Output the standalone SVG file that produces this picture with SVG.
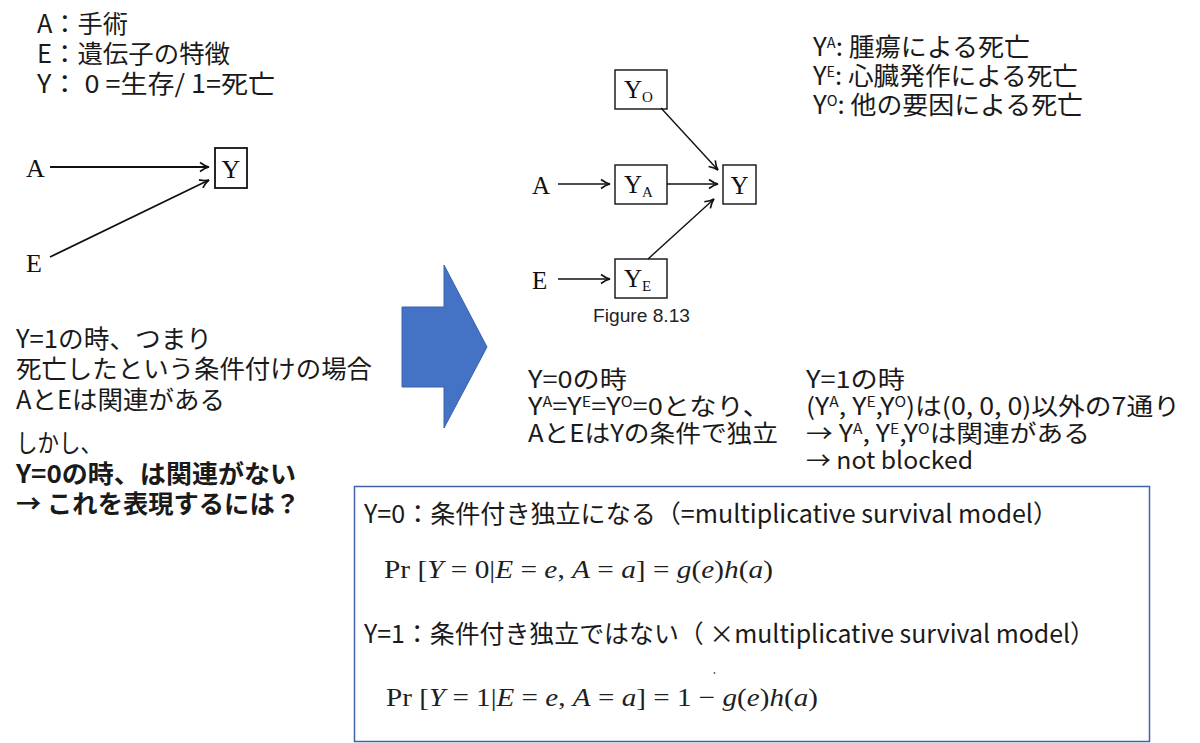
<svg xmlns="http://www.w3.org/2000/svg" width="1200" height="743" viewBox="0 0 1200 743">
<style>
.jp{font-family:"Noto Sans CJK JP","Noto Sans",sans-serif;font-size:25px;fill:#1a1a1a}
.mid{font-size:24px}
.b{font-weight:bold}
.sup{font-size:14px}
.tm{font-family:"Liberation Serif","Times New Roman",serif;fill:#111}
.math{font-family:"Liberation Serif","Times New Roman",serif;font-size:26px;fill:#1f1f1f}
.i{font-style:italic}
.nb{fill:none;stroke:#111;stroke-width:1.4}
.cn{fill:none;stroke:#111;stroke-width:1.8}
.cap{font-family:"Liberation Sans",Arial,sans-serif;font-size:18.5px;fill:#222}
</style>
<defs>
<marker id="ah" viewBox="-11 -6 12 12" refX="0" refY="0" markerWidth="12" markerHeight="12" markerUnits="userSpaceOnUse" orient="auto">
<path d="M-9,-4.5 Q-4,-0.8 0,0 Q-4,0.8 -9,4.5" fill="none" stroke="#111" stroke-width="1.6"/>
</marker>
</defs>
<rect width="1200" height="743" fill="#ffffff"/>

<g id="legend-left">
<text class="jp" x="37" y="33" textLength="91" lengthAdjust="spacingAndGlyphs">A：手術</text>
<text class="jp" x="37" y="63" textLength="193" lengthAdjust="spacingAndGlyphs">E：遺伝子の特徴</text>
<text class="jp" x="37" y="93" textLength="238" lengthAdjust="spacingAndGlyphs">Y： 0 =生存/ 1=死亡</text>
</g>

<g id="connectors">
<line class="cn" x1="50" y1="167" x2="209" y2="167" marker-end="url(#ah)"/>
<line class="cn" x1="50" y1="257" x2="209" y2="180" marker-end="url(#ah)"/>
<line class="nb" x1="558" y1="184" x2="610" y2="184" marker-end="url(#ah)"/>
<line class="nb" x1="558" y1="279" x2="610" y2="279" marker-end="url(#ah)"/>
<line class="nb" x1="667" y1="184" x2="718" y2="184" marker-end="url(#ah)"/>
<line class="nb" x1="661" y1="108" x2="718" y2="170" marker-end="url(#ah)"/>
<line class="nb" x1="648" y1="259" x2="714" y2="199" marker-end="url(#ah)"/>
</g>

<g id="left-A"><text class="tm" x="26" y="177" font-size="26">A</text></g>
<g id="left-E"><text class="tm" x="26" y="272" font-size="26">E</text></g>
<g id="left-Y">
<rect x="215" y="148" width="32" height="40" class="cn"/>
<text class="tm" x="231" y="178" font-size="26" text-anchor="middle">Y</text>
</g>

<g id="right-A"><text class="tm" x="532" y="194" font-size="25">A</text></g>
<g id="right-E"><text class="tm" x="532" y="289" font-size="25">E</text></g>
<g id="node-YO">
<rect x="615" y="70" width="52" height="39" class="nb"/>
<text class="tm" x="624" y="98" font-size="25">Y<tspan font-size="15" dy="4">O</tspan></text>
</g>
<g id="node-YA">
<rect x="615" y="165" width="52" height="39" class="nb"/>
<text class="tm" x="624" y="193" font-size="25">Y<tspan font-size="15" dy="4">A</tspan></text>
</g>
<g id="node-YE">
<rect x="615" y="259" width="52" height="39" class="nb"/>
<text class="tm" x="624" y="287" font-size="25">Y<tspan font-size="15" dy="4">E</tspan></text>
</g>
<g id="node-Y">
<rect x="723" y="165" width="33" height="39" class="nb"/>
<text class="tm" x="739.5" y="194" font-size="25" text-anchor="middle">Y</text>
</g>
<g id="caption"><text class="cap" x="593" y="322" textLength="97" lengthAdjust="spacingAndGlyphs">Figure 8.13</text></g>

<g id="legend-right">
<text class="jp" x="813" y="56" textLength="217" lengthAdjust="spacingAndGlyphs">Y<tspan class="sup" dy="-8">A</tspan><tspan dy="8">: 腫瘍による死亡</tspan></text>
<text class="jp" x="813" y="85" textLength="265" lengthAdjust="spacingAndGlyphs">Y<tspan class="sup" dy="-8">E</tspan><tspan dy="8">: 心臓発作による死亡</tspan></text>
<text class="jp" x="813" y="114" textLength="270" lengthAdjust="spacingAndGlyphs">Y<tspan class="sup" dy="-8">O</tspan><tspan dy="8">: 他の要因による死亡</tspan></text>
</g>

<g id="big-arrow">
<path d="M402,307 L444,307 L444,265 L487,347 L444,428 L444,387 L402,387 Z" fill="#4472C4" stroke="#3A63AD" stroke-width="1"/>
</g>

<g id="left-notes">
<text class="jp" x="16" y="348" textLength="196" lengthAdjust="spacingAndGlyphs">Y=1の時、つまり</text>
<text class="jp" x="16" y="378" textLength="356" lengthAdjust="spacingAndGlyphs">死亡したという条件付けの場合</text>
<text class="jp" x="16" y="409" textLength="209" lengthAdjust="spacingAndGlyphs">AとEは関連がある</text>
<text class="jp" x="16" y="452" textLength="86" lengthAdjust="spacingAndGlyphs">しかし、</text>
<text class="jp b" x="16" y="483" textLength="280" lengthAdjust="spacingAndGlyphs">Y=0の時、は関連がない</text>
<text class="jp b" x="16" y="513" textLength="284" lengthAdjust="spacingAndGlyphs">→ これを表現するには？</text>
</g>

<g id="middle-left">
<text class="jp mid" x="528" y="388" textLength="99" lengthAdjust="spacingAndGlyphs">Y=0の時</text>
<text class="jp mid" x="528" y="415" textLength="242" lengthAdjust="spacingAndGlyphs">Y<tspan class="sup" dy="-8">A</tspan><tspan dy="8">=Y</tspan><tspan class="sup" dy="-8">E</tspan><tspan dy="8">=Y</tspan><tspan class="sup" dy="-8">O</tspan><tspan dy="8">=0となり、</tspan></text>
<text class="jp mid" x="528" y="442" textLength="250" lengthAdjust="spacingAndGlyphs">AとEはYの条件で独立</text>
</g>

<g id="middle-right">
<text class="jp mid" x="806" y="388" textLength="99" lengthAdjust="spacingAndGlyphs">Y=1の時</text>
<text class="jp mid" x="806" y="415" textLength="374" lengthAdjust="spacingAndGlyphs">(Y<tspan class="sup" dy="-8">A</tspan><tspan dy="8">, Y</tspan><tspan class="sup" dy="-8">E</tspan><tspan dy="8">,Y</tspan><tspan class="sup" dy="-8">O</tspan><tspan dy="8">)は(0, 0, 0)以外の7通り</tspan></text>
<text class="jp mid" x="806" y="442" textLength="284" lengthAdjust="spacingAndGlyphs">→ Y<tspan class="sup" dy="-8">A</tspan><tspan dy="8">, Y</tspan><tspan class="sup" dy="-8">E</tspan><tspan dy="8">,Y</tspan><tspan class="sup" dy="-8">O</tspan><tspan dy="8">は関連がある</tspan></text>
<text class="jp mid" x="806" y="469" textLength="167" lengthAdjust="spacingAndGlyphs">→ not blocked</text>
</g>

<g id="model-box">
<rect x="354.5" y="486.5" width="795" height="255" fill="#ffffff" stroke="#3F62A8" stroke-width="1.5"/>
<text class="jp" x="364" y="523" textLength="694" lengthAdjust="spacingAndGlyphs">Y=0：条件付き独立になる（=multiplicative survival model）</text>
<text class="math" x="384" y="578" textLength="389" lengthAdjust="spacingAndGlyphs">Pr [<tspan class="i">Y</tspan> = 0|<tspan class="i">E</tspan> = <tspan class="i">e</tspan>, <tspan class="i">A</tspan> = <tspan class="i">a</tspan>] = <tspan class="i">g</tspan>(<tspan class="i">e</tspan>)<tspan class="i">h</tspan>(<tspan class="i">a</tspan>)</text>
<text class="jp" x="364" y="643" textLength="731" lengthAdjust="spacingAndGlyphs">Y=1：条件付き独立ではない（ ×multiplicative survival model）</text>
<text class="math" x="386" y="706" textLength="432" lengthAdjust="spacingAndGlyphs">Pr [<tspan class="i">Y</tspan> = 1|<tspan class="i">E</tspan> = <tspan class="i">e</tspan>, <tspan class="i">A</tspan> = <tspan class="i">a</tspan>] = 1 − <tspan class="i">g</tspan>(<tspan class="i">e</tspan>)<tspan class="i">h</tspan>(<tspan class="i">a</tspan>)</text>
<circle cx="714.5" cy="673" r="0.9" fill="#555"/>
</g>
</svg>
